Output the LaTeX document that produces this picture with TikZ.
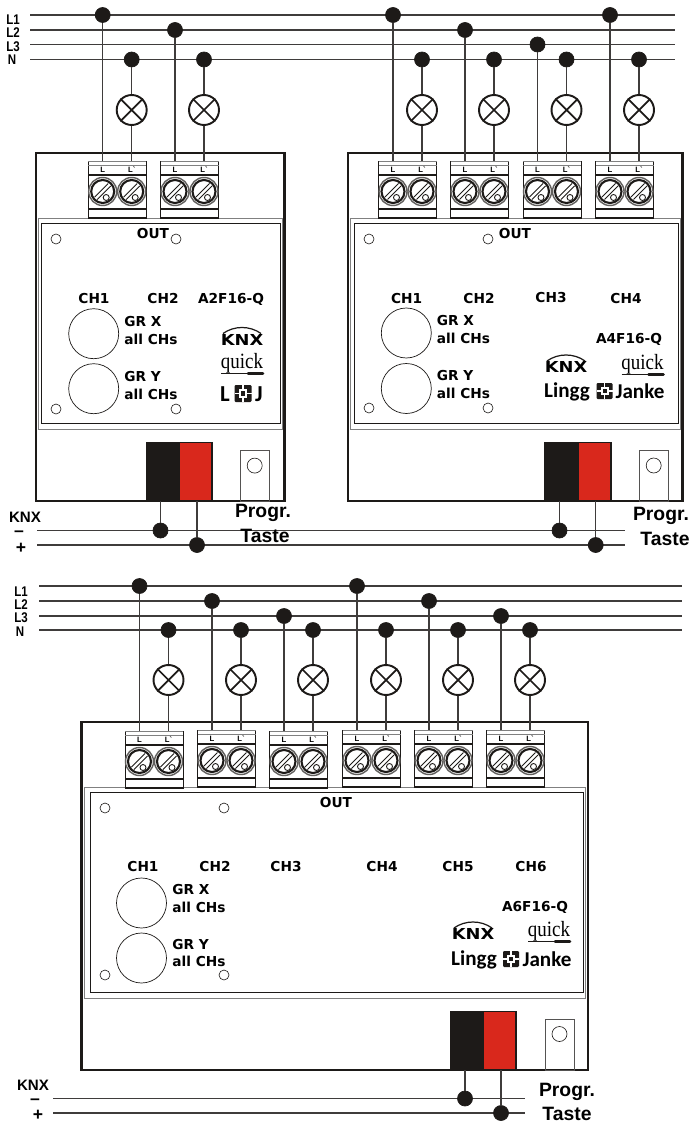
\documentclass[tikz,border=0pt]{standalone}
\usepackage{fontspec}
\setmainfont{DejaVu Sans}
\newfontfamily\busfont{Liberation Sans}
\newfontfamily\quickfont{Liberation Serif}
\newfontfamily\linggfont{Carlito}
\definecolor{ink}{HTML}{1D1A18}
\definecolor{plugred}{HTML}{D9281C}
\tikzset{
  wire/.style={ink!85,line width=0.75pt},
  dot/.style={draw=ink,fill=ink,circle,inner sep=0pt,minimum size=0.3cm},
  lamp/.style={draw=ink,circle,line width=1.1pt,inner sep=0pt,minimum size=0.6cm},
  hole/.style={draw=ink,circle,line width=0.35pt,inner sep=0pt,minimum size=0.2cm},
  knob/.style={draw=ink,circle,line width=0.4pt,inner sep=0pt,minimum size=1cm},
  lab/.style={inner sep=0pt,font=\fontsize{7.8}{9}\selectfont\bfseries},
  labl/.style={lab,anchor=west},
  buslab/.style={inner sep=0pt,font=\busfont\fontsize{8}{8}\selectfont\bfseries},
  knxlab/.style={inner sep=0pt,font=\busfont\fontsize{8.6}{9}\selectfont\bfseries},
  signlab/.style={inner sep=0pt,font=\busfont\fontsize{10}{10}\selectfont\bfseries},
  proglab/.style={inner sep=0pt,font=\busfont\fontsize{11}{12}\selectfont\bfseries},
  termlab/.style={inner sep=0pt,font=\busfont\fontsize{4.4}{5}\selectfont\bfseries},
}
% one output: phase dot, N dot, lamp, terminal block
\newcommand{\outlet}[6]{
  \node (#1p) at (#2,#3) [dot] {};
  \node (#1n) at (#2+29,#4) [dot] {};
  \node (#1l) at (#2+29,#5) [lamp] {};
  \draw[ink,line width=1pt] (#1l.45) to (#1l.225) (#1l.135) to (#1l.315);
  \coordinate (#1a) at (#2,#6+2);
  \coordinate (#1b) at (#2+29,#6+2);
  \draw[wire] (#1p) to (#1a);
  \draw[wire] (#1n) to (#1l) to (#1b);
  \begin{scope}[shift={(#2-14.5,#6)}]
    \fill[white] (0,1) rectangle (58,58);
    \draw[ink,line width=0.5pt] (0,1.5) rectangle (58,58);
    \draw[gray,line width=0.9pt] (0,1.5) to (58,1.5);
    \draw[gray,line width=0.4pt] (0,5) to (58,5);
    \draw[ink,line width=0.8pt] (0,15) to (58,15);
    \draw[ink,line width=0.8pt] (0,49) to (58,49);
    \draw[ink,line width=1pt] (0,58) to (58,58);
    \node (#1la) at (14.5,9.5) [termlab] {L};
    \node (#1lb) at (43.5,9.5) [termlab] {L`};
    \foreach \sx in {14.5,43.5} {
      \begin{scope}[shift={(\sx,31.5)}]
        \draw[ink!70,line width=0.8pt] (0,0) circle [radius=14];
        \draw[ink,line width=1.2pt,fill=white] (0,0) circle [radius=11.5];
        \draw[ink,line width=0.5pt] (-8,5.5) to (5.5,-8) (-5.5,8) to (8,-5.5);
        \draw[ink,line width=0.5pt] (3.5,6) circle [radius=3];
      \end{scope}
    }
  \end{scope}
}
% housing with front panel
\newcommand{\housing}[7]{
  \draw[gray,line width=0.5pt] (#1+2.5,#2+65.5) rectangle (#3-2.5,#4-72);
  \draw[ink,line width=0.5pt] (#1+#7,#2+70) rectangle (#3-4.5,#4-78);
  \draw[ink,line width=1.3pt] (#1,#2) rectangle (#3,#4);
  \draw[ink,line width=0.4pt] (#5,#4-59) rectangle (#5+33.5,#4);
  \fill[ink] (#5,#4-59) rectangle (#5+33.5,#4);
  \draw[ink,line width=1pt,fill=plugred] (#5+33.5,#4-58.5) rectangle (#5+66,#4);
  \draw[ink!75,line width=0.5pt] (#6,#4-50.5) rectangle (#6+29.5,#4);
}
\newcommand{\knxlogo}[3]{
  \node (#1) at (#2,#3) [inner sep=0pt,font=\fontsize{8.6}{9}\selectfont\bfseries] {\scalebox{1.18}[1]{KNX}};
  \draw[ink,line width=0.7pt] (#2-19,#3-6) .. controls (#2-8,#3-14) and (#2+8,#3-14) .. (#2+19,#3-6);
}
\newcommand{\quicklogo}[3]{
  \node (#1) at (#2,#3) [inner sep=0pt,font=\quickfont\fontsize{10.8}{11}\selectfont] {\scalebox{1}[1.15]{quick}};
  \draw[ink,line width=0.4pt] (#2-21,#3+10.5) to (#2+5,#3+10.5);
  \draw[ink,line width=1.6pt,line cap=round] (#2+6,#3+10.5) to (#2+21,#3+10.5);
}
\newcommand{\ljmark}[3]{
  \begin{scope}[shift={(#1,#2)}]
    \fill[ink,rounded corners=0.6pt] (-#3,-#3) rectangle (#3,#3);
    \draw[white,line width=0.6pt] (-#3,0) to (#3,0) (0,-#3) to (0,#3);
    \fill[white] (-#3*0.5,-#3*0.5) rectangle (#3*0.5,#3*0.5);
    \fill[ink] (-#3*0.25,-#3*0.25) rectangle (#3*0.25,#3*0.25);
  \end{scope}
}
\begin{document}
\begin{tikzpicture}[x=0.02cm,y=-0.02cm]
  \useasboundingbox (0,0) rectangle (689,1122);
  % upper bus
  \foreach \n/\y in {a/15,b/30,c/44.5,d/59.5} {
    \coordinate (up\n l) at (30,\y);
    \coordinate (up\n r) at (675,\y);
    \draw[wire] (up\n l) to (up\n r);
  }
  \node (upL1) at (13,20) [buslab] {\scalebox{0.82}[1]{L1}};
  \node (upL2) at (13,33) [buslab] {\scalebox{0.82}[1]{L2}};
  \node (upL3) at (13,47) [buslab] {\scalebox{0.82}[1]{L3}};
  \node (upN) at (12,60) [buslab] {\scalebox{0.82}[1]{N}};
  % lower bus
  \foreach \n/\y in {a/586,b/601,c/616,d/630} {
    \coordinate (lo\n l) at (39,\y);
    \coordinate (lo\n r) at (682,\y);
    \draw[wire] (lo\n l) to (lo\n r);
  }
  \node (loL1) at (21,592) [buslab] {\scalebox{0.82}[1]{L1}};
  \node (loL2) at (21,605) [buslab] {\scalebox{0.82}[1]{L2}};
  \node (loL3) at (21,618) [buslab] {\scalebox{0.82}[1]{L3}};
  \node (loN) at (20,632) [buslab] {\scalebox{0.82}[1]{N}};

  % A2F16-Q
  \housing{36}{153}{284.5}{501}{146}{240}{5.5}
  \outlet{aA}{102.7}{15}{59.5}{110}{160}
  \outlet{aB}{175}{30}{59.5}{110}{160}
  \node (aOut) at (153,234) [lab] {OUT};
  \node (aC1) at (94,299) [lab] {CH1};
  \node (aC2) at (163,299) [lab] {CH2};
  \node (aType) at (231,299) [lab] {A2F16-Q};
  \node (aK1) at (93.7,333.7) [knob] {};
  \node (aK2) at (93.7,388.7) [knob] {};
  \node (aGx) at (124,322) [labl] {GR X};
  \node (aAx) at (124,339) [labl] {all CHs};
  \node (aGy) at (124,376.5) [labl] {GR Y};
  \node (aAy) at (124,394) [labl] {all CHs};
  \foreach \n/\x/\y in {a/56/239,b/176/239,c/56/409,d/176/409} {
    \node (aH\n) at (\x,\y) [hole] {};
  }
  \knxlogo{aKnx}{242}{339.5}
  \quicklogo{aQuick}{242}{363}
  \node (aL) at (225,394) [inner sep=0pt,font=\linggfont\fontsize{13}{14}\selectfont\bfseries] {L};
  \ljmark{243}{393.5}{8.5}
  \node (aJ) at (259,394) [inner sep=0pt,font=\linggfont\fontsize{13}{14}\selectfont\bfseries] {J};
  \node (aTaster) at (254.7,465.6) [hole,minimum size=0.3cm] {};

  % A4F16-Q
  \housing{348}{153}{682.5}{501}{544.7}{639}{6}
  \outlet{bA}{393}{15}{59.5}{110}{160}
  \outlet{bB}{465}{30}{59.5}{110}{160}
  \outlet{bC}{537.5}{44.5}{59.5}{110}{160}
  \outlet{bD}{610}{15}{59.5}{110}{160}
  \node (bOut) at (515,234) [lab] {OUT};
  \node (bC1) at (406.7,299) [lab] {CH1};
  \node (bC2) at (479,299) [lab] {CH2};
  \node (bC3) at (551,298) [lab] {CH3};
  \node (bC4) at (626,299) [lab] {CH4};
  \node (bType) at (629,339) [lab] {A4F16-Q};
  \node (bK1) at (406.3,333) [knob] {};
  \node (bK2) at (406.3,388.5) [knob] {};
  \node (bGx) at (436.5,321) [labl] {GR X};
  \node (bAx) at (436.5,338) [labl] {all CHs};
  \node (bGy) at (436.5,376) [labl] {GR Y};
  \node (bAy) at (436.5,393) [labl] {all CHs};
  \foreach \n/\x/\y in {a/369/239,b/488/239,c/369/408,d/488/408} {
    \node (bH\n) at (\x,\y) [hole] {};
  }
  \knxlogo{bKnx}{566}{367}
  \quicklogo{bQuick}{642.5}{364}
  \node (bLi) at (567,391.5) [inner sep=0pt,font=\linggfont\fontsize{12}{13}\selectfont\bfseries] {Lingg};
  \ljmark{604.5}{391}{8}
  \node (bJa) at (640,391.5) [inner sep=0pt,font=\linggfont\fontsize{12}{13}\selectfont\bfseries] {Janke};
  \node (bTaster) at (653.7,465.5) [hole,minimum size=0.3cm] {};

  % A6F16-Q
  \housing{81.5}{722}{588}{1070}{450}{545}{9}
  \outlet{cA}{139.5}{586}{630}{680}{730}
  \outlet{cB}{212}{601}{630}{680}{729}
  \outlet{cC}{284}{616}{630}{680}{730}
  \outlet{cD}{357}{586}{630}{680}{729}
  \outlet{cE}{429}{601}{630}{680}{729}
  \outlet{cF}{501}{616}{630}{680}{729}
  \node (cOut) at (336,803) [lab] {OUT};
  \node (cC1) at (143,867) [lab] {CH1};
  \node (cC2) at (215,867) [lab] {CH2};
  \node (cC3) at (286,867) [lab] {CH3};
  \node (cC4) at (382,867) [lab] {CH4};
  \node (cC5) at (458,867) [lab] {CH5};
  \node (cC6) at (531,867) [lab] {CH6};
  \node (cType) at (535,907) [lab] {A6F16-Q};
  \node (cK1) at (141.5,903) [knob] {};
  \node (cK2) at (141.5,958) [knob] {};
  \node (cGx) at (172,890) [labl] {GR X};
  \node (cAx) at (172,907) [labl] {all CHs};
  \node (cGy) at (172,944) [labl] {GR Y};
  \node (cAy) at (172,961) [labl] {all CHs};
  \foreach \n/\x/\y in {a/105/808,b/224/808,c/105/975,d/224/975} {
    \node (cH\n) at (\x,\y) [hole] {};
  }
  \knxlogo{cKnx}{473}{934}
  \quicklogo{cQuick}{549}{931}
  \node (cLi) at (474,959.5) [inner sep=0pt,font=\linggfont\fontsize{12}{13}\selectfont\bfseries] {Lingg};
  \ljmark{511}{959}{8}
  \node (cJa) at (547,959.5) [inner sep=0pt,font=\linggfont\fontsize{12}{13}\selectfont\bfseries] {Janke};
  \node (cTaster) at (559.5,1034) [hole,minimum size=0.3cm] {};

  % KNX lines, upper pair
  \coordinate (kuml) at (37,530.5);
  \coordinate (kumr) at (625,530.5);
  \coordinate (kupl) at (37,545);
  \coordinate (kupr) at (625,545);
  \draw[wire] (kuml) to (kumr);
  \draw[wire] (kupl) to (kupr);
  \coordinate (aPm) at (160.5,501);
  \coordinate (aPp) at (197,501);
  \coordinate (bPm) at (559.5,501);
  \coordinate (bPp) at (595.7,501);
  \node (aDm) at (160.5,530.5) [dot] {};
  \node (aDp) at (197,545) [dot] {};
  \node (bDm) at (559.5,530.5) [dot] {};
  \node (bDp) at (595.7,545) [dot] {};
  \draw[wire] (aPm) to (aDm);
  \draw[wire] (aPp) to (aDp);
  \draw[wire] (bPm) to (bDm);
  \draw[wire] (bPp) to (bDp);
  \node (kuK) at (25,517) [knxlab] {KNX};
  \node (kuM) at (19,534) [signlab] {–};
  \node (kuP) at (21,548) [signlab] {+};
  \node (aProg) at (263,513) [proglab] {Progr.};
  \node (aTaste) at (265,536) [proglab] {Taste};
  \node (bProg) at (661,516) [proglab] {Progr.};
  \node (bTaste) at (665,539) [proglab] {Taste};

  % KNX lines, lower pair
  \coordinate (klml) at (53,1098.5);
  \coordinate (klmr) at (525,1098.5);
  \coordinate (klpl) at (53,1113);
  \coordinate (klpr) at (525,1113);
  \draw[wire] (klml) to (klmr);
  \draw[wire] (klpl) to (klpr);
  \coordinate (cPm) at (465,1070);
  \coordinate (cPp) at (501,1070);
  \node (cDm) at (465,1098.5) [dot] {};
  \node (cDp) at (501,1113) [dot] {};
  \draw[wire] (cPm) to (cDm);
  \draw[wire] (cPp) to (cDp);
  \node (klK) at (33,1085.5) [knxlab] {KNX};
  \node (klM) at (35,1102) [signlab] {–};
  \node (klP) at (38,1115) [signlab] {+};
  \node (cProg) at (567,1092) [proglab] {Progr.};
  \node (cTaste) at (567,1113.5) [proglab] {Taste};
\end{tikzpicture}
\end{document}
